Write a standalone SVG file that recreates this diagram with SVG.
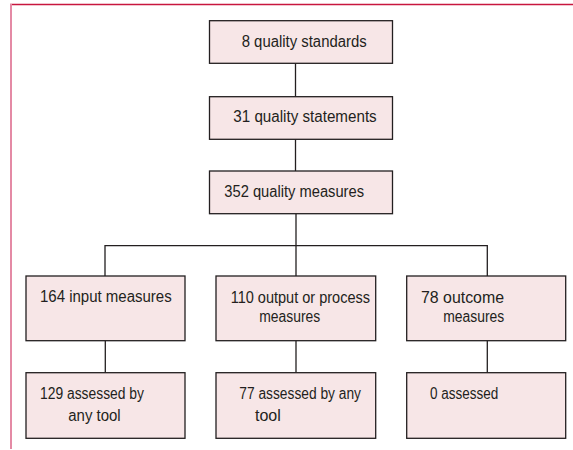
<svg xmlns="http://www.w3.org/2000/svg" width="573" height="450" viewBox="0 0 573 450">
<style>
.box{fill:#f7e6e7;stroke:#231f20;stroke-width:1.3}
.lbl{font-family:"Liberation Sans",Arial,sans-serif;font-size:16px;fill:#231f20}
.con{fill:none;stroke:#231f20;stroke-width:1.3}
</style>
<rect width="573" height="450" fill="#ffffff"/>
<line x1="10" y1="4.5" x2="573" y2="4.5" stroke="#c8163f" stroke-width="1.5"/>
<line x1="11" y1="4" x2="11" y2="449" stroke="#e48aa5" stroke-width="2"/>
<g id="connectors">
<line class="con" x1="295.5" y1="63.3" x2="295.5" y2="96.7"/>
<line class="con" x1="295.5" y1="139.3" x2="295.5" y2="171"/>
<line class="con" x1="296" y1="213.7" x2="296" y2="276"/>
<polyline class="con" points="105,276 105,245.7 487.3,245.7 487.3,276"/>
<line class="con" x1="105.3" y1="340.7" x2="105.3" y2="372.7"/>
<line class="con" x1="296" y1="340.7" x2="296" y2="372.7"/>
<line class="con" x1="487.3" y1="340.7" x2="487.3" y2="372.7"/>
</g>
<g id="n1"><rect class="box" x="209.5" y="20.7" width="183" height="42.6"/><text class="lbl" x="241.7" y="46.7" textLength="125" lengthAdjust="spacingAndGlyphs">8 quality standards</text></g>
<g id="n2"><rect class="box" x="209.5" y="96.7" width="183" height="42.6"/><text class="lbl" x="233.3" y="121.7" textLength="143.4" lengthAdjust="spacingAndGlyphs">31 quality statements</text></g>
<g id="n3"><rect class="box" x="209.5" y="171" width="183" height="42.7"/><text class="lbl" x="224.3" y="196.5" textLength="139.7" lengthAdjust="spacingAndGlyphs">352 quality measures</text></g>
<g id="n4"><rect class="box" x="26" y="276" width="159" height="64.7"/><text class="lbl" x="40" y="302.3" textLength="131.7" lengthAdjust="spacingAndGlyphs">164 input measures</text></g>
<g id="n5"><rect class="box" x="216" y="276" width="159.7" height="64.7"/><text class="lbl" x="230.7" y="303.3" textLength="139.3" lengthAdjust="spacingAndGlyphs">110 output or process</text><text class="lbl" x="259.3" y="322.3" textLength="61" lengthAdjust="spacingAndGlyphs">measures</text></g>
<g id="n6"><rect class="box" x="406.7" y="276" width="159" height="64.7"/><text class="lbl" x="421" y="303.3" textLength="83" lengthAdjust="spacingAndGlyphs">78 outcome</text><text class="lbl" x="443.3" y="322.3" textLength="61" lengthAdjust="spacingAndGlyphs">measures</text></g>
<g id="n7"><rect class="box" x="26" y="372.7" width="159" height="65.6"/><text class="lbl" x="40" y="398.8" textLength="104" lengthAdjust="spacingAndGlyphs">129 assessed by</text><text class="lbl" x="68.3" y="420.5" textLength="52.4" lengthAdjust="spacingAndGlyphs">any tool</text></g>
<g id="n8"><rect class="box" x="216" y="372.7" width="159.7" height="65.6"/><text class="lbl" x="239.3" y="398.8" textLength="121.7" lengthAdjust="spacingAndGlyphs">77 assessed by any</text><text class="lbl" x="255" y="420.5">tool</text></g>
<g id="n9"><rect class="box" x="406.7" y="372.7" width="159" height="65.6"/><text class="lbl" x="430" y="398.8" textLength="68.3" lengthAdjust="spacingAndGlyphs">0 assessed</text></g>
</svg>
